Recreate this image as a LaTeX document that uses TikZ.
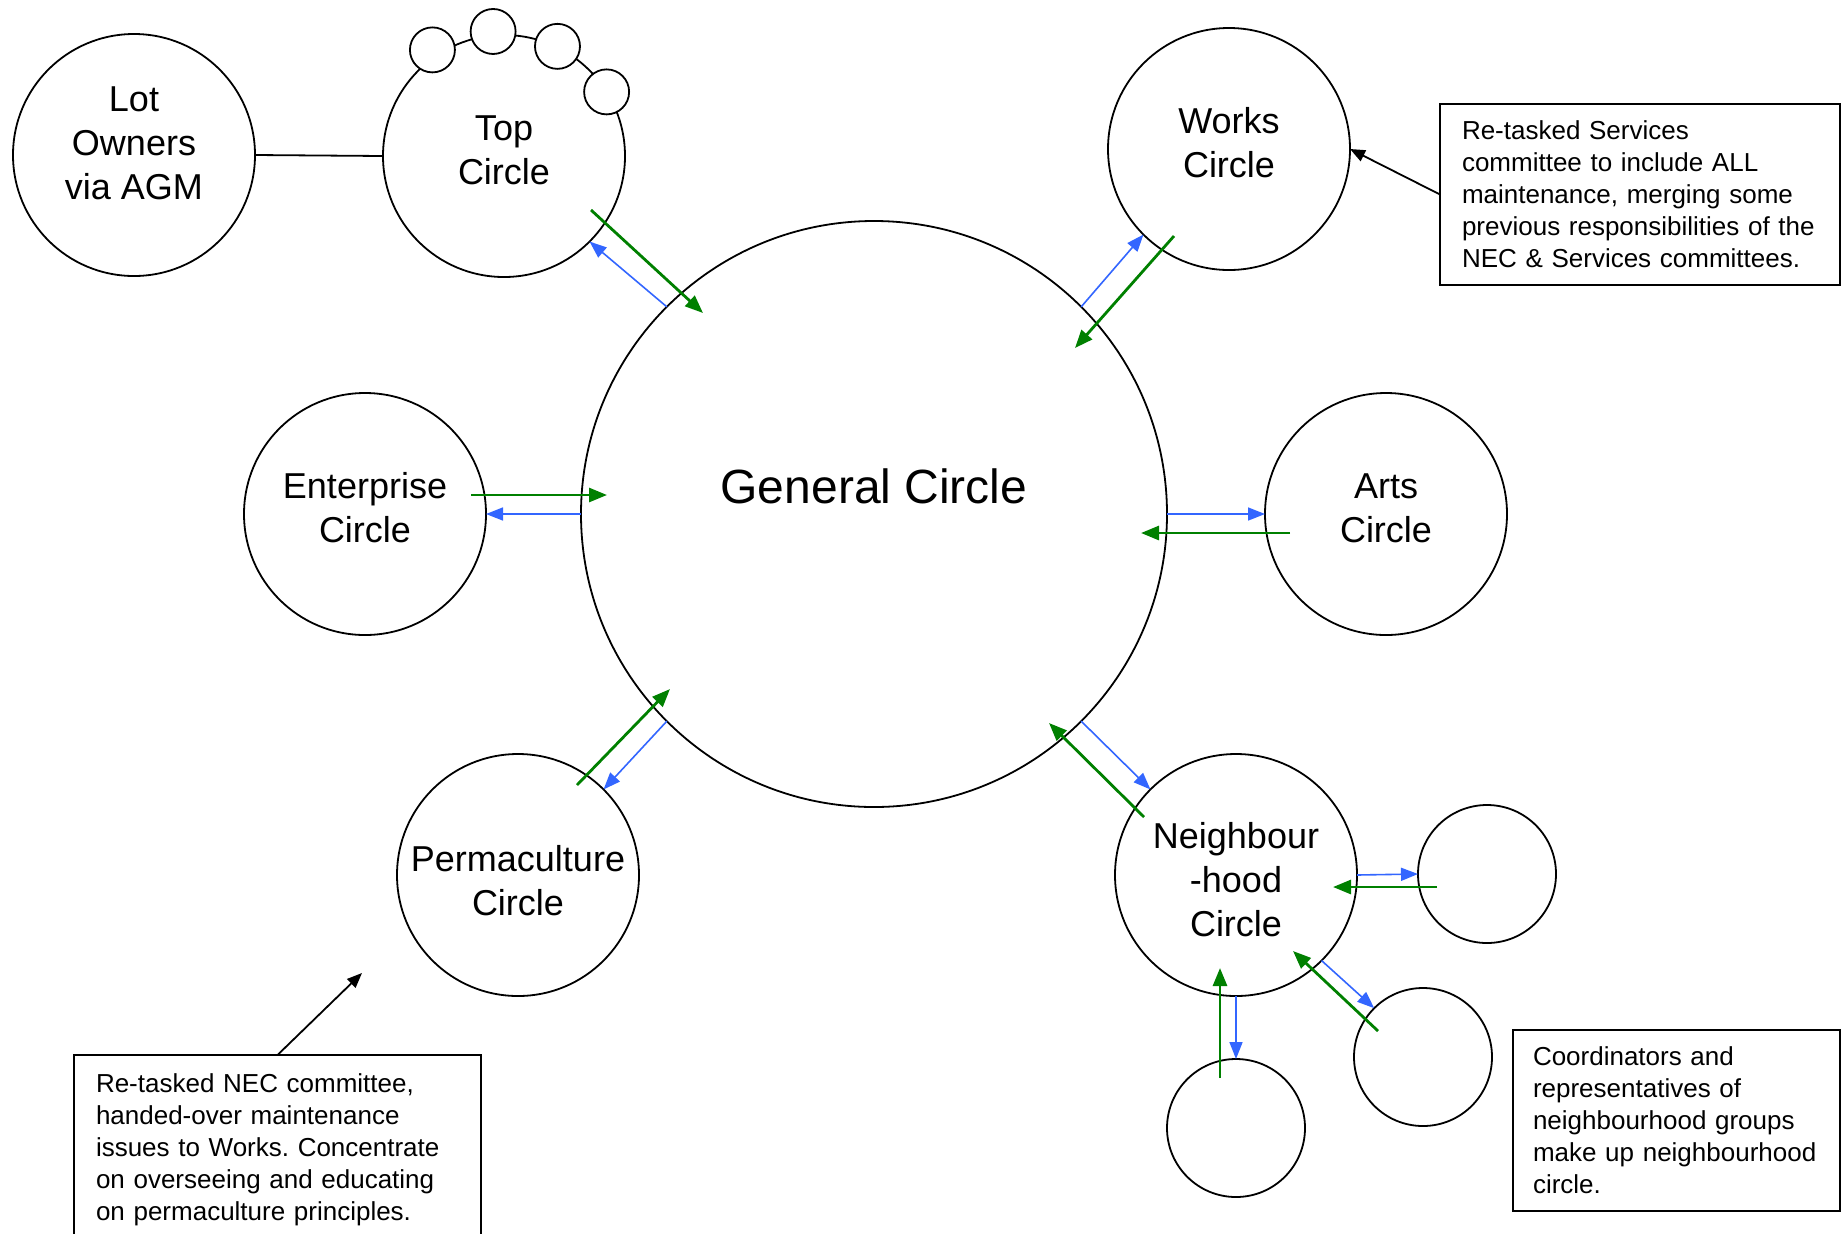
\documentclass[tikz,border=0pt]{standalone}
\usepackage{fontspec}
\setmainfont{Liberation Sans}
\usetikzlibrary{arrows.meta}
\definecolor{flowgreen}{RGB}{0,128,0}
\definecolor{flowblue}{RGB}{51,102,255}
\tikzset{
  circ/.style={circle,draw,line width=0.9pt,minimum size=121pt,inner sep=0pt,outer sep=0pt},
  circtext/.style={align=center,font=\fontsize{18}{22}\selectfont},
  bigcirc/.style={circle,draw,line width=0.9pt,minimum size=293pt,inner sep=0pt,outer sep=0pt},
  pod/.style={circle,draw,line width=0.9pt,minimum size=69pt,inner sep=0pt,outer sep=0pt},
  bud/.style={circle,draw,fill=white,line width=0.9pt,minimum size=22.5pt,inner sep=0pt,outer sep=0pt},
  note/.style={draw,line width=0.9pt,inner xsep=11pt,inner ysep=0pt,outer sep=0pt,
    align=left,font=\fontsize{13}{16}\selectfont},
  upflow/.style={draw=flowgreen,line width=1.4pt,-{Triangle[length=9pt,width=7pt]}},
  downflow/.style={draw=flowblue,line width=0.8pt,-{Triangle[length=8.5pt,width=6.5pt]}},
  callout/.style={draw=black,line width=0.9pt,-{Triangle[length=7.5pt,width=6pt]}},
}
\frenchspacing
\begin{document}
\begin{tikzpicture}[x=0.5pt,y=-0.5pt]
  \useasboundingbox (0,0) rectangle (1842,1233);
  \clip (0,0) rectangle (1842,1233);
  \node[bigcirc] (gen) at (874,514) {};
  \node[font=\fontsize{24}{29}\selectfont] (gentext) at ([yshift=14pt]gen.center) {General Circle};
  \node[circ] (lot) at (134,155) {};
  \node[circ] (top) at (504,156) {};
  \node[circ] (works) at (1229,149) {};
  \node[circ] (ent) at (365,514) {};
  \node[circ] (arts) at (1386,514) {};
  \node[circ] (perm) at (518,875) {};
  \node[circ] (nb) at (1236,875) {};
  \node[circtext] (lottext) at ([yshift=6pt]lot.center) {Lot\\Owners\\via AGM};
  \node[circtext] (toptext) at ([yshift=3pt]top.center) {Top\\Circle};
  \node[circtext] (workstext) at ([yshift=3pt]works.center) {Works\\Circle};
  \node[circtext] (enttext) at ([yshift=3pt]ent.center) {Enterprise\\Circle};
  \node[circtext] (artstext) at ([yshift=3pt]arts.center) {Arts\\Circle};
  \node[circtext] (permtext) at ([yshift=-3pt]perm.center) {Permaculture\\Circle};
  \node[circtext] (nbtext) at ([yshift=-2.5pt]nb.center) {Neighbour\\-hood\\Circle};
  \node[pod] (podE) at (1487,874) {};
  \node[pod] (podSE) at (1423,1057) {};
  \node[pod] (podS) at (1236,1128) {};
  \foreach \a/\d/\n in {124/3.5/1,95/2/2,64/0.5/3,32/0/4}
    \node[bud] (bud\n) at ([shift={(\a:\d pt)}]top.\a) {};

  \draw[line width=0.9pt] (lot.east) -- (top.west);

  \draw[upflow] ([xshift=43.5pt,yshift=-27pt]top.center) -- ([xshift=-85.5pt,yshift=100.5pt]gen.center);
  \draw[downflow] (gen.135) -- (top.-45);
  \draw[upflow] ([xshift=-27.5pt,yshift=-43.5pt]works.center) -- ([xshift=100.5pt,yshift=83pt]gen.center);
  \draw[downflow] (gen.45) -- (works.-135);
  \draw[upflow] ([xshift=-48pt,yshift=-9.5pt]arts.center) -- ([xshift=133.5pt,yshift=-9.5pt]gen.center);
  \draw[downflow] (gen.east) -- (arts.west);
  \draw[upflow] ([xshift=53pt,yshift=9.5pt]ent.center) -- ([xshift=-133.5pt,yshift=9.5pt]gen.center);
  \draw[downflow] (gen.west) -- (ent.east);
  \draw[upflow] ([xshift=29.5pt,yshift=45pt]perm.center) -- ([xshift=-102pt,yshift=-87.5pt]gen.center);
  \draw[downflow] (gen.-135) -- (perm.45);
  \draw[upflow] ([xshift=-46pt,yshift=29pt]nb.center) -- ([xshift=87.5pt,yshift=-104.5pt]gen.center);
  \draw[downflow] (gen.-45) -- (nb.135);

  \draw[upflow] ([xshift=-25pt,yshift=-6.5pt]podE.center) -- ([xshift=48.5pt,yshift=-6pt]nb.center);
  \draw[downflow] (nb.east) -- (podE.west);
  \draw[upflow] ([xshift=-22.5pt,yshift=13pt]podSE.center) -- ([xshift=28.5pt,yshift=-38pt]nb.center);
  \draw[downflow] (nb.-45) -- (podSE.135);
  \draw[upflow] ([xshift=-8pt,yshift=25pt]podS.center) -- ([xshift=-8pt,yshift=-46.5pt]nb.center);
  \draw[downflow] (nb.south) -- (podS.north);

  \node[note,text width=178pt,minimum height=90.5pt] (svcnote) at (1640,194.5)
    {Re-tasked Services\\committee to include ALL\\maintenance, merging some\\previous responsibilities of the\\NEC \& Services committees.};
  \node[note,text width=181.5pt,minimum height=95pt,anchor=north] (necnote) at (277.5,1055)
    {Re-tasked NEC committee,\\handed-over maintenance\\issues to Works. Concentrate\\on overseeing and educating\\on permaculture principles.};
  \node[note,inner xsep=10pt,text width=143.5pt,minimum height=90.5pt] (nbnote) at (1676.5,1120.5)
    {Coordinators and\\representatives of\\neighbourhood groups\\make up neighbourhood\\circle.};

  \coordinate (permpoint) at (362,973);
  \draw[callout] (svcnote.west) -- (works.east);
  \draw[callout] (necnote.north) -- (permpoint);
\end{tikzpicture}
\end{document}
